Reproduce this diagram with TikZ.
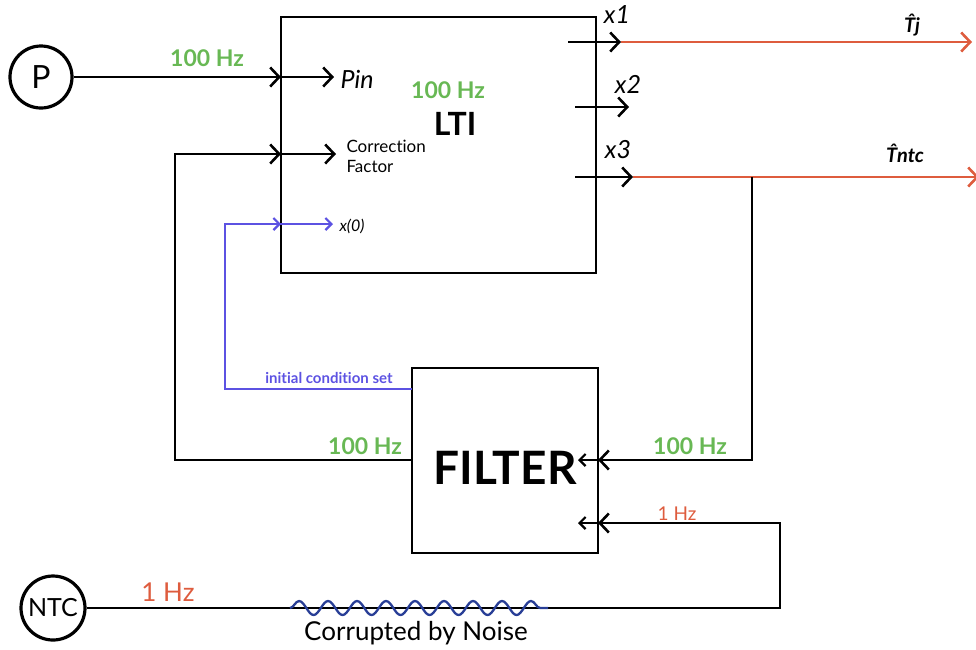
\documentclass[tikz,border=0pt]{standalone}
\usepackage{fontspec}
\setmainfont{Lato}[Ligatures={TeX,NoCommon}]
\usetikzlibrary{arrows.meta,decorations.pathmorphing}
\definecolor{hzgreen}{RGB}{104,184,84}
\definecolor{hzred}{RGB}{222,92,62}
\definecolor{icblue}{RGB}{92,82,226}
\definecolor{noiseblue}{RGB}{40,62,150}
\tikzset{
  wire/.style={line width=2.8pt, line join=miter},
  arr/.style={wire, -{Straight Barb[length=9pt,width=19pt,line width=2.6pt]}},
  sarr/.style={wire, -{Straight Barb[length=6pt,width=12pt,line width=2.2pt]}},
  block/.style={draw, line width=2.8pt, inner sep=0pt},
  src/.style={draw, circle, line width=3.2pt, inner sep=0pt},
  hz/.style={text=hzgreen, font=\fontsize{23}{25}\selectfont\bfseries},
  hzrbig/.style={text=hzred, font=\fontsize{26}{28}\selectfont},
  hzrsmall/.style={text=hzred, font=\fontsize{19}{21}\selectfont},
  lbl/.style={font=\fontsize{25}{28}\selectfont\itshape},
  hatlbl/.style={font=\fontsize{20}{22}\selectfont\bfseries\itshape},
}
\begin{document}
\begin{tikzpicture}[x=1pt,y=-1pt]
\useasboundingbox (0,0) rectangle (976,649);
% LTI block
\coordinate (ltinw) at (281,17);
\coordinate (ltise) at (596,273);
\draw[line width=2.8pt] (ltinw) rectangle (ltise);
\node[font=\fontsize{32}{34}\selectfont\bfseries] (ltil) at (455,124) {LTI};
\node[hz] (ltihz) at (448,90) {100 Hz};
% FILTER block
\node[block, minimum width=186pt, minimum height=185pt, text height=48pt, text depth=0pt,
      font=\fontsize{46}{48}\selectfont\bfseries] (filt) at (505,460.5) {FILTER};
% sources
\node[src, minimum size=62pt, font=\fontsize{32}{34}\selectfont] (p) at (41,77) {P};
\node[src, minimum size=64pt, font=\fontsize{25}{27}\selectfont] (ntc) at (53,608) {NTC};
% input P
\coordinate (pe) at (281,77);
\coordinate (pt) at (334,77);
\draw[arr] (p) -- (pe);
\draw[arr] (pe) -- (pt);
\node[lbl, anchor=west] (pin) at (337,79) {Pin};
\node[hz] (phz) at (207,58) {100 Hz};
% correction factor loop
\coordinate (fo) at (412,460);
\coordinate (c1) at (175,460);
\coordinate (c2) at (175,154);
\coordinate (ce) at (281,154);
\coordinate (ct) at (336,154);
\draw[wire] (fo) -- (c1) -- (c2) -- (ce);
\draw[arr] (c2) -- (ce);
\draw[arr] (ce) -- (ct);
\node[anchor=west, align=left, font=\fontsize{17}{20}\selectfont] (cf) at (343,156) {Correction\\Factor};
\node[hz] (fhz) at (365,446) {100 Hz};
% initial condition
\coordinate (ic0) at (412,389);
\coordinate (ic1) at (225,389);
\coordinate (ic2) at (225,224);
\coordinate (ice) at (281,224);
\coordinate (ict) at (333,224);
\draw[wire, icblue, line width=2.3pt] (ic0) -- (ic1) -- (ic2) -- (ice);
\draw[sarr, icblue, line width=2.3pt] (ic2) -- (ice);
\draw[sarr, icblue, line width=2.3pt] (ice) -- (ict);
\node[anchor=west, font=\fontsize{16}{18}\selectfont\itshape] (x0) at (336,226) {x(0)};
\node[text=icblue, font=\fontsize{15}{17}\selectfont\bfseries] (icl) at (329,378) {initial condition set};
% outputs
\coordinate (x1s) at (568,42);
\coordinate (x1e) at (621,42);
\coordinate (tj) at (972,42);
\draw[arr] (x1s) -- (x1e);
\draw[arr, hzred, line width=2.3pt] (x1e) -- (tj);
\node[lbl] (x1l) at (617,15) {x1};
\coordinate (x2s) at (575,107);
\coordinate (x2e) at (629,107);
\draw[arr] (x2s) -- (x2e);
\node[lbl] (x2l) at (628,84) {x2};
\coordinate (x3s) at (575,177);
\coordinate (x3e) at (633,177);
\coordinate (tn) at (979,177);
\draw[arr] (x3s) -- (x3e);
\draw[arr, hzred, line width=2.3pt] (x3e) -- (tn);
\node[lbl] (x3l) at (618,150) {x3};
\node[hatlbl] (tjl) at (912,25) {T̂j};
\node[hatlbl] (tnl) at (905,153) {T̂ntc};
% feedback x3 -> filter
\coordinate (j) at (752,177);
\coordinate (j2) at (752,460);
\coordinate (fe) at (598,460);
\coordinate (ft) at (578,460);
\draw[wire] (j) -- (j2) -- (fe);
\draw[arr] (j2) -- (fe);
\draw[sarr] (fe) -- (ft);
\node[hz] (f2hz) at (690,446) {100 Hz};
% NTC -> filter
\coordinate (n1) at (780,608);
\coordinate (n2) at (780,523);
\coordinate (ne) at (598,523);
\coordinate (nt) at (578,523);
\draw[wire] (ntc) -- (n1) -- (n2) -- (ne);
\draw[arr] (n2) -- (ne);
\draw[sarr] (ne) -- (nt);
\node[hzrsmall] (nhz) at (677,514) {1 Hz};
\node[hzrbig] (nthz) at (168,592) {1 Hz};
% noise
\coordinate (w1) at (290,608);
\coordinate (w2) at (548,608);
\draw[noiseblue, line width=2.3pt, decorate, decoration={snake, amplitude=7pt, segment length=29pt}] (w1) -- (w2);
\node[font=\fontsize{26}{28}\selectfont] (noise) at (416,633) {Corrupted by Noise};
\end{tikzpicture}
\end{document}
